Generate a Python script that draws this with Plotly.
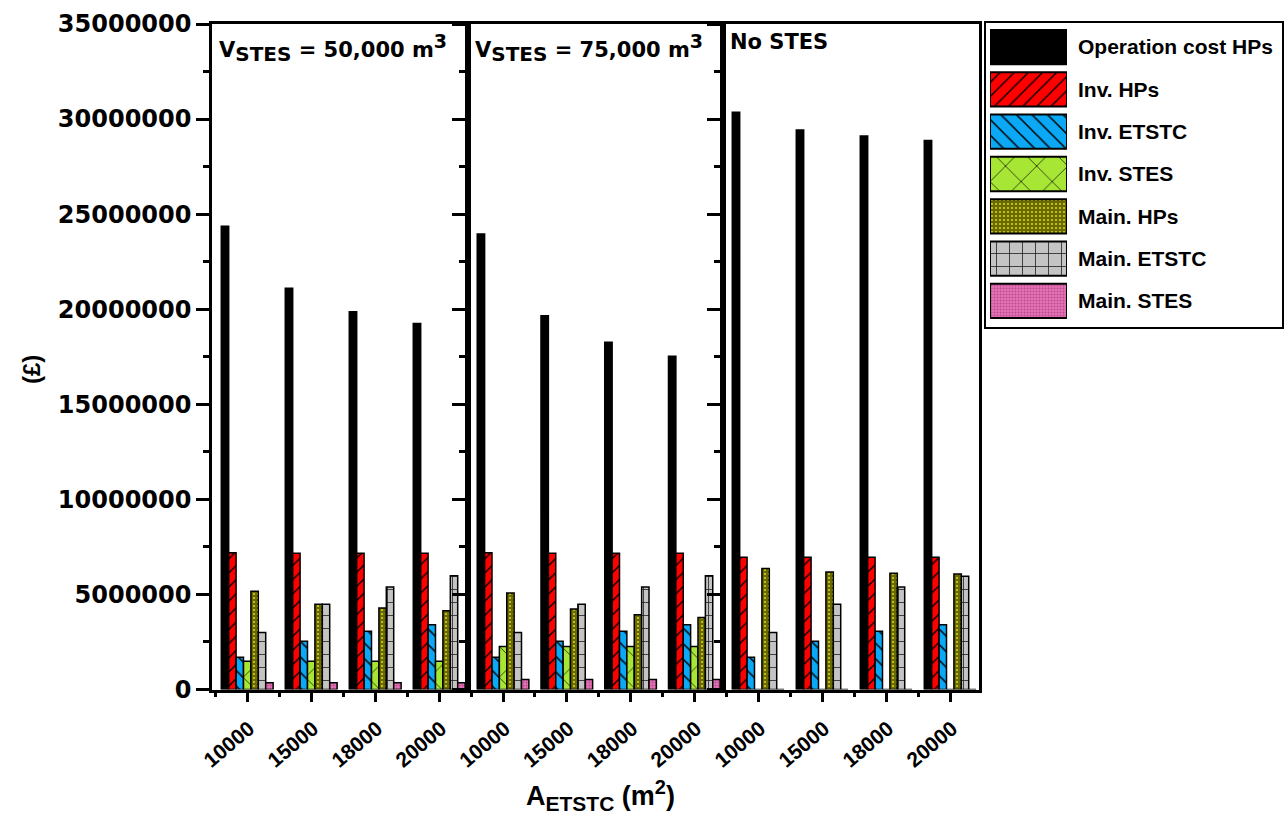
import plotly.graph_objects as go

# ---- data -------------------------------------------------------------
areas = ["10000", "15000", "18000", "20000"]
panel_titles = [
    "V<sub><span style='font-size:20px'>STES</span></sub> = 50,000 m<sup><span style='font-size:19px'>3</span></sup>",
    "V<sub><span style='font-size:20px'>STES</span></sub> = 75,000 m<sup><span style='font-size:19px'>3</span></sup>",
    "No STES",
]
series = ["Operation cost HPs", "Inv. HPs", "Inv. ETSTC", "Inv. STES",
          "Main. HPs", "Main. ETSTC", "Main. STES"]

# values in GBP, one list per series, for each storage case
op_cost_50k = [24360000, 21100000, 19870000, 19250000]
inv_hp_50k = [7190000, 7170000, 7170000, 7170000]
inv_etstc_50k = [1700000, 2540000, 3070000, 3400000]
inv_stes_50k = [1490000, 1490000, 1490000, 1490000]
main_hp_50k = [5170000, 4490000, 4280000, 4140000]
main_etstc_50k = [3000000, 4490000, 5390000, 5980000]
main_stes_50k = [350000, 350000, 350000, 350000]

op_cost_75k = [23960000, 19660000, 18260000, 17530000]
inv_hp_75k = [7190000, 7170000, 7170000, 7170000]
inv_etstc_75k = [1700000, 2540000, 3070000, 3400000]
inv_stes_75k = [2260000, 2260000, 2260000, 2260000]
main_hp_75k = [5070000, 4230000, 3930000, 3790000]
main_etstc_75k = [3000000, 4490000, 5390000, 5980000]
main_stes_75k = [530000, 530000, 530000, 530000]

op_cost_none = [30360000, 29430000, 29110000, 28870000]
inv_hp_none = [6960000, 6960000, 6960000, 6960000]
inv_etstc_none = [1700000, 2540000, 3070000, 3400000]
inv_stes_none = [0, 0, 0, 0]
main_hp_none = [6370000, 6180000, 6120000, 6070000]
main_etstc_none = [3000000, 4490000, 5390000, 5960000]
main_stes_none = [0, 0, 0, 0]

panels = [
    [op_cost_50k, inv_hp_50k, inv_etstc_50k, inv_stes_50k, main_hp_50k, main_etstc_50k, main_stes_50k],
    [op_cost_75k, inv_hp_75k, inv_etstc_75k, inv_stes_75k, main_hp_75k, main_etstc_75k, main_stes_75k],
    [op_cost_none, inv_hp_none, inv_etstc_none, inv_stes_none, main_hp_none, main_etstc_none, main_stes_none],
]

# ---- styles -----------------------------------------------------------
styles = [
    dict(bg="#000000", fg="#000000", shape="", size=8, sol=0.3),
    dict(bg="#FF0000", fg="#000000", shape="/", size=10, sol=0.14),
    dict(bg="#0AA8F5", fg="#000000", shape="\\", size=11, sol=0.14),
    dict(bg="#A8E636", fg="#000000", shape="x", size=22, sol=0.06),
    dict(bg="#6A6A04", fg="#E8E820", shape=".", size=4, sol=0.16),
    dict(bg="#C4C4C4", fg="#222222", shape="+", size=13, sol=0.12),
    dict(bg="#E873B8", fg="#B54C8C", shape=".", size=3, sol=0.35),
]

FONT = "Liberation Sans"
WIDE = "DejaVu Sans"
W, H = 1286, 816
px = lambda v: v / W
py = lambda v: 1 - v / H

x_edges = [212, 468, 723, 979]
y_dom = [py(689.5), py(24)]

fig = go.Figure()


def pattern(st):
    return dict(shape=st["shape"], fgcolor=st["fg"], bgcolor=st["bg"],
                size=st["size"], solidity=st["sol"], fillmode="replace", fgopacity=1)


for p, values in enumerate(panels):
    xa = "x" if p == 0 else f"x{p + 1}"
    ya = "y" if p == 0 else f"y{p + 1}"
    for s, vals in enumerate(values):
        st = styles[s]
        fig.add_trace(go.Bar(
            x=list(range(len(areas))), y=vals, xaxis=xa, yaxis=ya,
            name=series[s], showlegend=False,
            marker=dict(color=st["bg"], line=dict(color="black", width=1.5),
                        pattern=pattern(st)),
        ))

# key panel: one swatch bar per series, all sharing one slot position
for s, name in enumerate(series):
    st = styles[s]
    fig.add_trace(go.Bar(
        x=[1], y=[name], orientation="h", xaxis="x5", yaxis="y5",
        offsetgroup="key", showlegend=False,
        marker=dict(color=st["bg"], line=dict(color="black", width=2),
                    pattern=pattern(st)),
    ))

tickfont = dict(family=WIDE, size=24, color="black", weight="bold")
xtickfont = dict(family=FONT, size=21, color="black", weight="bold")

layout = dict(
    width=W, height=H, margin=dict(l=0, r=0, t=0, b=0, autoexpand=False),
    paper_bgcolor="white", plot_bgcolor="white",
    barmode="group", bargap=0.19, bargroupgap=0,
    font=dict(family=FONT, color="black"),
    annotations=[], shapes=[],
)

for p in range(3):
    xk = "xaxis" if p == 0 else f"xaxis{p + 1}"
    yk = "yaxis" if p == 0 else f"yaxis{p + 1}"
    ya = "y" if p == 0 else f"y{p + 1}"
    xa = "x" if p == 0 else f"x{p + 1}"
    layout[xk] = dict(
        domain=[px(x_edges[p]), px(x_edges[p + 1])], anchor=ya,
        range=[-0.55, len(areas) - 0.55], automargin=False,
        tickmode="array", tickvals=list(range(len(areas))), ticktext=areas,
        ticks="outside", ticklen=10, tickwidth=2.5, tickcolor="black",
        minor=dict(tickmode="array", tickvals=[i - 0.5 for i in range(len(areas) + 1)],
                   ticks="outside", ticklen=5, tickwidth=2.5, tickcolor="black"),
        tickangle=-40, tickfont=xtickfont, ticklabelshift=2, ticklabelstandoff=6,
        showline=True, linecolor="black", linewidth=2.5, mirror=True,
        showgrid=False, zeroline=False, fixedrange=True,
    )
    layout[yk] = dict(
        domain=y_dom, anchor=xa, range=[0, 35000000], automargin=False,
        tickmode="linear", tick0=0, dtick=5000000, tickformat="d",
        ticks="outside", ticklen=13, tickwidth=2.5, tickcolor="black",
        minor=dict(dtick=2500000, ticks="outside", ticklen=6, tickwidth=2.5, tickcolor="black"),
        showticklabels=(p == 0), tickfont=tickfont,
        showline=True, linecolor="black", linewidth=2.5, mirror=True,
        showgrid=False, zeroline=False, fixedrange=True,
    )
    layout["annotations"].append(dict(
        text=panel_titles[p], xref=f"{xa} domain", yref="paper",
        x=0.02, y=py(28), xanchor="left", yanchor="top", showarrow=False,
        font=dict(family=WIDE, size=21, color="black", weight="bold"),
    ))

# inward ticks on the right edge of the last panel
layout["yaxis4"] = dict(
    domain=y_dom, anchor="x3", overlaying="y3", side="right", automargin=False,
    range=[0, 35000000], tickmode="linear", tick0=0, dtick=5000000,
    ticks="inside", ticklen=10, tickwidth=2.5, tickcolor="black",
    minor=dict(dtick=2500000, ticks="inside", ticklen=5, tickwidth=2.5, tickcolor="black"),
    showticklabels=False, showline=False, showgrid=False, zeroline=False,
)

# key panel axes
layout["xaxis5"] = dict(domain=[px(990), px(1067)], anchor="y5", range=[0, 1],
                        visible=False, fixedrange=True, automargin=False)
layout["yaxis5"] = dict(domain=[py(322), py(26)], anchor="x5", side="right",
                        autorange="reversed", ticks="", showline=False, automargin=False,
                        showgrid=False, zeroline=False, ticklabelstandoff=10,
                        tickfont=dict(family=FONT, size=21, color="black", weight="bold"),
                        fixedrange=True)
layout["shapes"].append(dict(type="rect", xref="paper", yref="paper",
                             x0=px(985), x1=px(1283), y0=py(328), y1=py(22),
                             line=dict(color="black", width=2)))

# axis titles
layout["annotations"].append(dict(
    text="(£)", xref="paper", yref="paper", x=px(32), y=py(370),
    textangle=-90, showarrow=False, xanchor="center", yanchor="middle",
    font=dict(family=FONT, size=24, color="black", weight="bold"),
))
layout["annotations"].append(dict(
    text="A<sub><span style='font-size:21px'>ETSTC</span></sub> (m<sup><span style='font-size:20px'>2</span></sup>)",
    xref="paper", yref="paper",
    x=px(600), y=py(795), showarrow=False, xanchor="center", yanchor="middle",
    font=dict(family=FONT, size=27, color="black", weight="bold"),
))

fig.update_layout(**layout)
fig.write_html("out.html")
